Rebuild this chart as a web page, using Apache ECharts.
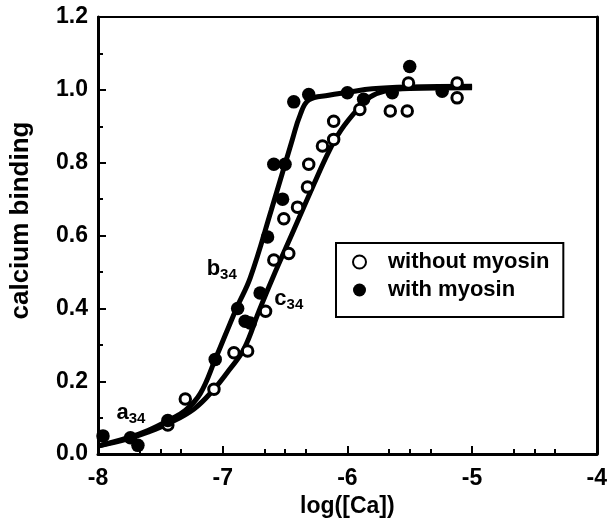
<!DOCTYPE html>
<html>
<head>
<meta charset="utf-8">
<script src="https://cdn.jsdelivr.net/npm/echarts@6/dist/echarts.min.js"></script>
<style>
  html, body { margin: 0; padding: 0; background: #fff; }
  #chart { width: 610px; height: 523px; }
</style>
</head>
<body>
<div id="chart"></div>
<script>
// Calcium binding vs log([Ca]) — measured points and fitted curves
const withoutMyosin = [
  [-7.44, 0.08], [-7.30, 0.151], [-7.07, 0.178], [-6.91, 0.278], [-6.80, 0.283],
  [-6.656, 0.392], [-6.59, 0.533], [-6.47, 0.551], [-6.51, 0.646], [-6.40, 0.678],
  [-6.32, 0.733], [-6.31, 0.796], [-6.20, 0.846], [-6.11, 0.864], [-6.11, 0.914],
  [-5.90, 0.946], [-5.656, 0.942], [-5.52, 0.942], [-5.51, 1.019], [-5.12, 1.019],
  [-5.12, 0.978]
];
const withMyosin = [
  [-7.96, 0.05], [-7.74, 0.045], [-7.68, 0.024], [-7.44, 0.092], [-7.06, 0.26],
  [-6.88, 0.40], [-6.82, 0.365], [-6.78, 0.36], [-6.70, 0.442], [-6.64, 0.596],
  [-6.59, 0.796], [-6.50, 0.796], [-6.52, 0.70], [-6.43, 0.967], [-6.31, 0.987],
  [-6.0, 0.992], [-5.87, 0.974], [-5.64, 0.992], [-5.50, 1.064], [-5.24, 0.996]
];
// fitted curve b34 (with myosin)
const curveB = [
  [-8.0, 0.022], [-7.76, 0.045], [-7.6, 0.065], [-7.44, 0.092], [-7.3, 0.12],
  [-7.18, 0.166], [-7.06, 0.26], [-6.89, 0.40], [-6.78, 0.483], [-6.61, 0.67],
  [-6.44, 0.865], [-6.38, 0.93], [-6.31, 0.972], [-6.15, 0.985], [-6.0, 0.993],
  [-5.8, 1.003], [-5.5, 1.008], [-5.0, 1.01]
];
// fitted curve c34 (without myosin)
const curveC = [
  [-8.0, 0.022], [-7.76, 0.042], [-7.6, 0.06], [-7.44, 0.083], [-7.23, 0.124],
  [-7.07, 0.178], [-6.95, 0.23], [-6.83, 0.288], [-6.71, 0.392], [-6.60, 0.483],
  [-6.43, 0.615], [-6.27, 0.74], [-6.15, 0.83], [-6.05, 0.89], [-5.92, 0.946],
  [-5.82, 0.98], [-5.7, 0.997], [-5.5, 1.004], [-5.0, 1.006]
];
// curve annotations: [x, y, letter]
const curveLabels = [
  [-7.736, 0.112, 'a'],
  [-7.008, 0.507, 'b'],
  [-6.47, 0.425, 'c']
];
const xMinorTicks = [
  -7.6667, -7.5, -7.3333, -6.6667, -6.5, -6.3333,
  -5.6667, -5.5, -5.3333, -4.6667, -4.5, -4.3333
];

const FONT = 'Liberation Sans, Arial, Helvetica, sans-serif';
const chart = echarts.init(document.getElementById('chart'), null, { renderer: 'canvas' });

chart.setOption({
  backgroundColor: '#fff',
  animation: false,
  grid: { left: 97, top: 17, right: 13, bottom: 66 },
  legend: {
    orient: 'vertical',
    left: 336,
    top: 243,
    padding: [8, 14, 16, 16],
    itemGap: 6,
    itemWidth: 13,
    itemHeight: 13,
    borderColor: '#000',
    borderWidth: 2,
    borderRadius: 0,
    selectedMode: false,
    data: ['without myosin', 'with myosin'],
    textStyle: {
      fontFamily: FONT, fontSize: 22, fontWeight: 'bold', color: '#000',
      lineHeight: 22, padding: [0, 0, 0, 17]
    }
  },
  xAxis: [
    {
      type: 'value', min: -8, max: -4, interval: 1, position: 'bottom',
      name: 'log([Ca])', nameLocation: 'middle', nameGap: 38,
      nameTextStyle: { fontFamily: FONT, fontSize: 23, fontWeight: 'bold', color: '#000' },
      axisLine: { show: true, onZero: false, lineStyle: { color: '#000', width: 3 } },
      axisTick: { show: true, inside: true, length: 8, lineStyle: { color: '#000', width: 2 } },
      axisLabel: { fontFamily: FONT, fontSize: 23, fontWeight: 'bold', color: '#000', margin: 13 },
      splitLine: { show: false }
    },
    {
      type: 'value', min: -8, max: -4, interval: 1, position: 'top',
      axisLine: { show: true, onZero: false, lineStyle: { color: '#000', width: 2 } },
      axisTick: { show: false }, axisLabel: { show: false }, splitLine: { show: false }
    },
    {
      type: 'value', min: -8, max: -4, interval: 1, position: 'bottom',
      axisLine: { show: false },
      axisTick: {
        show: true, inside: true, length: 5, customValues: xMinorTicks,
        lineStyle: { color: '#000', width: 2 }
      },
      axisLabel: { show: false }, splitLine: { show: false }
    }
  ],
  yAxis: [
    {
      type: 'value', min: 0, max: 1.2, interval: 0.2, position: 'left',
      name: 'calcium binding', nameLocation: 'middle', nameGap: 64,
      nameTextStyle: {
        fontFamily: FONT, fontSize: 26, fontWeight: 'bold', color: '#000',
        padding: [0, 0, 0, 30]
      },
      axisLine: { show: true, onZero: false, lineStyle: { color: '#000', width: 3 } },
      axisTick: { show: true, inside: true, length: 8, lineStyle: { color: '#000', width: 2 } },
      minorTick: { show: true, splitNumber: 2, length: 5, lineStyle: { color: '#000', width: 2 } },
      axisLabel: {
        fontFamily: FONT, fontSize: 23, fontWeight: 'bold', color: '#000', margin: 10,
        formatter: v => v.toFixed(1)
      },
      splitLine: { show: false }
    },
    {
      type: 'value', min: 0, max: 1.2, interval: 0.2, position: 'right',
      axisLine: { show: true, onZero: false, lineStyle: { color: '#000', width: 3 } },
      axisTick: { show: false }, axisLabel: { show: false }, splitLine: { show: false }
    }
  ],
  series: [
    {
      name: 'fit b34', type: 'line', data: curveB, smooth: 0.4, showSymbol: false,
      lineStyle: { color: '#000', width: 5 }, z: 2, silent: true
    },
    {
      name: 'fit c34', type: 'line', data: curveC, smooth: 0.4, showSymbol: false,
      lineStyle: { color: '#000', width: 5 }, z: 2, silent: true
    },
    {
      name: 'without myosin', type: 'scatter', data: withoutMyosin, symbol: 'circle',
      symbolSize: 10.5,
      itemStyle: { color: '#fff', borderColor: '#000', borderWidth: 3, opacity: 1 }, z: 3
    },
    {
      name: 'with myosin', type: 'scatter', data: withMyosin, symbol: 'circle',
      symbolSize: 13.5, itemStyle: { color: '#000', opacity: 1 }, z: 4
    },
    {
      name: 'labels', type: 'scatter', symbolSize: 0, z: 5, silent: true,
      itemStyle: { opacity: 1 },
      data: curveLabels.map(d => ({ value: [d[0], d[1]], letter: d[2] })),
      label: {
        show: true, position: 'inside', opacity: 1,
        formatter: p => '{m|' + p.data.letter + '}{s|34}',
        rich: {
          m: { fontFamily: FONT, fontSize: 22, fontWeight: 'bold', color: '#000', verticalAlign: 'top', lineHeight: 22 },
          s: { fontFamily: FONT, fontSize: 15, fontWeight: 'bold', color: '#000', verticalAlign: 'top', lineHeight: 15, padding: [9, 0, 0, 0] }
        }
      }
    }
  ]
});
</script>
</body>
</html>
